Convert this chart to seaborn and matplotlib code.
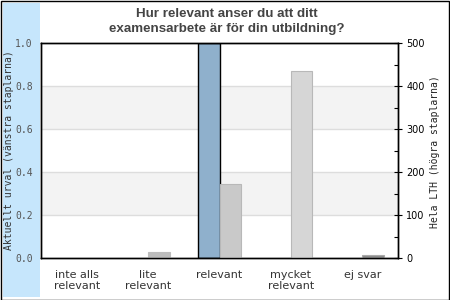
import matplotlib
matplotlib.use("Agg")
import matplotlib.pyplot as plt
from matplotlib.patches import Rectangle
from matplotlib.ticker import MultipleLocator, FixedLocator
import seaborn as sns
import pandas as pd

# Svarsalternativ och värden
categories = ["inte alls\nrelevant", "lite\nrelevant", "relevant", "mycket\nrelevant", "ej svar"]
series = ["Aktuellt urval", "Hela LTH"]
urval_andel = [0.0, 0.0, 1.0, 0.0, 0.0]      # vänstra staplarna (andel)
hela_lth_antal = [0, 14, 172, 435, 6]         # högra staplarna (antal)
left_ticks = [0.0, 0.2, 0.4, 0.6, 0.8, 1.0]
right_ticks = [0, 100, 200, 300, 400, 500]

title = "Hur relevant anser du att ditt\nexamensarbete är för din utbildning?"
left_label = "Aktuellt urval (vänstra staplarna)"
right_label = "Hela LTH (högra staplarna)"

sns.set_theme(style="white")
plt.rcParams["font.family"] = ["DejaVu Sans"]

W, H = 450, 300
fig = plt.figure(figsize=(W / 100, H / 100), dpi=100)
fig.patch.set_facecolor("white")

# ljusblå remsa till vänster och ram runt hela figuren
fig.patches.append(Rectangle((3 / W, 3 / H), 37 / W, 294 / H, transform=fig.transFigure,
                             facecolor="#c6e6fc", edgecolor="none", zorder=-1))
fig.patches.append(Rectangle((0.5 / W, 0.5 / H), (W - 1.5) / W, (H - 1.5) / H,
                             transform=fig.transFigure, fill=False,
                             edgecolor="black", linewidth=1.0, zorder=10))

left, right, top, bottom = 41, 398, 43, 258
ax1 = fig.add_axes([left / W, 1 - bottom / H, (right - left) / W, (bottom - top) / H])
ax1.set_facecolor("white")

# bakgrundsband och stödlinjer
for lo, hi in [(0.2, 0.4), (0.6, 0.8)]:
    ax1.axhspan(lo, hi, color="#f3f3f3", zorder=0, linewidth=0)
for y in left_ticks[1:-1]:
    ax1.axhline(y, color="#dddddd", linewidth=1.0, zorder=0.5)

left_df = pd.DataFrame({"kategori": categories, "serie": series[0], "varde": urval_andel})
right_df = pd.DataFrame({"kategori": categories, "serie": series[1], "varde": hela_lth_antal})
palette = {series[0]: "#8fb0cc", series[1]: "#c9c9c9"}

sns.barplot(data=left_df, x="kategori", y="varde", hue="serie", hue_order=series,
            order=categories, dodge=True, width=0.6, palette=palette, saturation=1,
            edgecolor="black", linewidth=1.0, legend=False, ax=ax1, zorder=2)

ax2 = ax1.twinx()
ax2.patch.set_visible(False)
sns.barplot(data=right_df, x="kategori", y="varde", hue="serie", hue_order=series,
            order=categories, dodge=True, width=0.6, palette=palette, saturation=1,
            edgecolor="#b8b8b8", linewidth=0.8, legend=False, ax=ax2, zorder=2)

gray_faces = ["#c9c9c9", "#bdbdbd", "#c9c9c9", "#d6d6d6", "#8c8c8c"]
gray_edges = ["#b8b8b8", "#bdbdbd", "#b8b8b8", "#b8b8b8", "#aaaaaa"]
for bar, fc, ec in zip(ax2.patches, gray_faces, gray_edges):
    bar.set_facecolor(fc)
    bar.set_edgecolor(ec)

# staplar utan höjd ritas inte
for bar in list(ax1.patches) + list(ax2.patches):
    if bar.get_height() == 0:
        bar.set_visible(False)

ax1.set_xlim(-0.5, len(categories) - 0.5)
ax1.set_ylim(0, 1)
ax2.set_ylim(0, 500)

# vänster axel
ax1.yaxis.set_major_locator(FixedLocator(left_ticks))
ax1.set_yticklabels([f"{t:.1f}" for t in left_ticks], family="DejaVu Sans Mono",
                    fontsize=7, color="#555555")
ax1.tick_params(axis="y", length=0, pad=5.8, left=False, labelleft=True)
ax1.set_ylabel("")
ax1.set_xlabel("")
ax1.tick_params(axis="x", length=0, pad=9, labelsize=8, labelcolor="#333333")
for lab in ax1.get_xticklabels():
    lab.set_linespacing(1.05)

# höger axel
ax2.yaxis.set_major_locator(FixedLocator(right_ticks))
ax2.yaxis.set_minor_locator(MultipleLocator(50))
ax2.set_yticklabels([str(t) for t in right_ticks], fontsize=7, color="black")
ax2.tick_params(axis="y", which="major", direction="inout", length=6, width=0.8,
                color="black", pad=3, right=True)
ax2.tick_params(axis="y", which="minor", direction="in", length=3, width=0.8,
                color="black", right=True)
ax2.set_ylabel("")

for ax in (ax1, ax2):
    for s in ax.spines.values():
        s.set_color("black")
        s.set_linewidth(1.0)

fig.text(9 / W, 1 - 150 / H, left_label, rotation=90, ha="center", va="center",
         family="DejaVu Sans Mono", fontsize=7, color="#333333")
fig.text(435 / W, 1 - 152 / H, right_label, rotation=90, ha="center", va="center",
         family="DejaVu Sans Mono", fontsize=7, color="#222222")

# rubriken, en rad i taget med fast radavstånd
for i, line in enumerate(title.split("\n")):
    fig.text(227 / W, 1 - (16.7 + 15 * i) / H, line, ha="center", va="baseline",
             family="Liberation Sans", fontweight="bold", fontsize=9.6, color="#444444")

fig.savefig("out.png", dpi=100)
